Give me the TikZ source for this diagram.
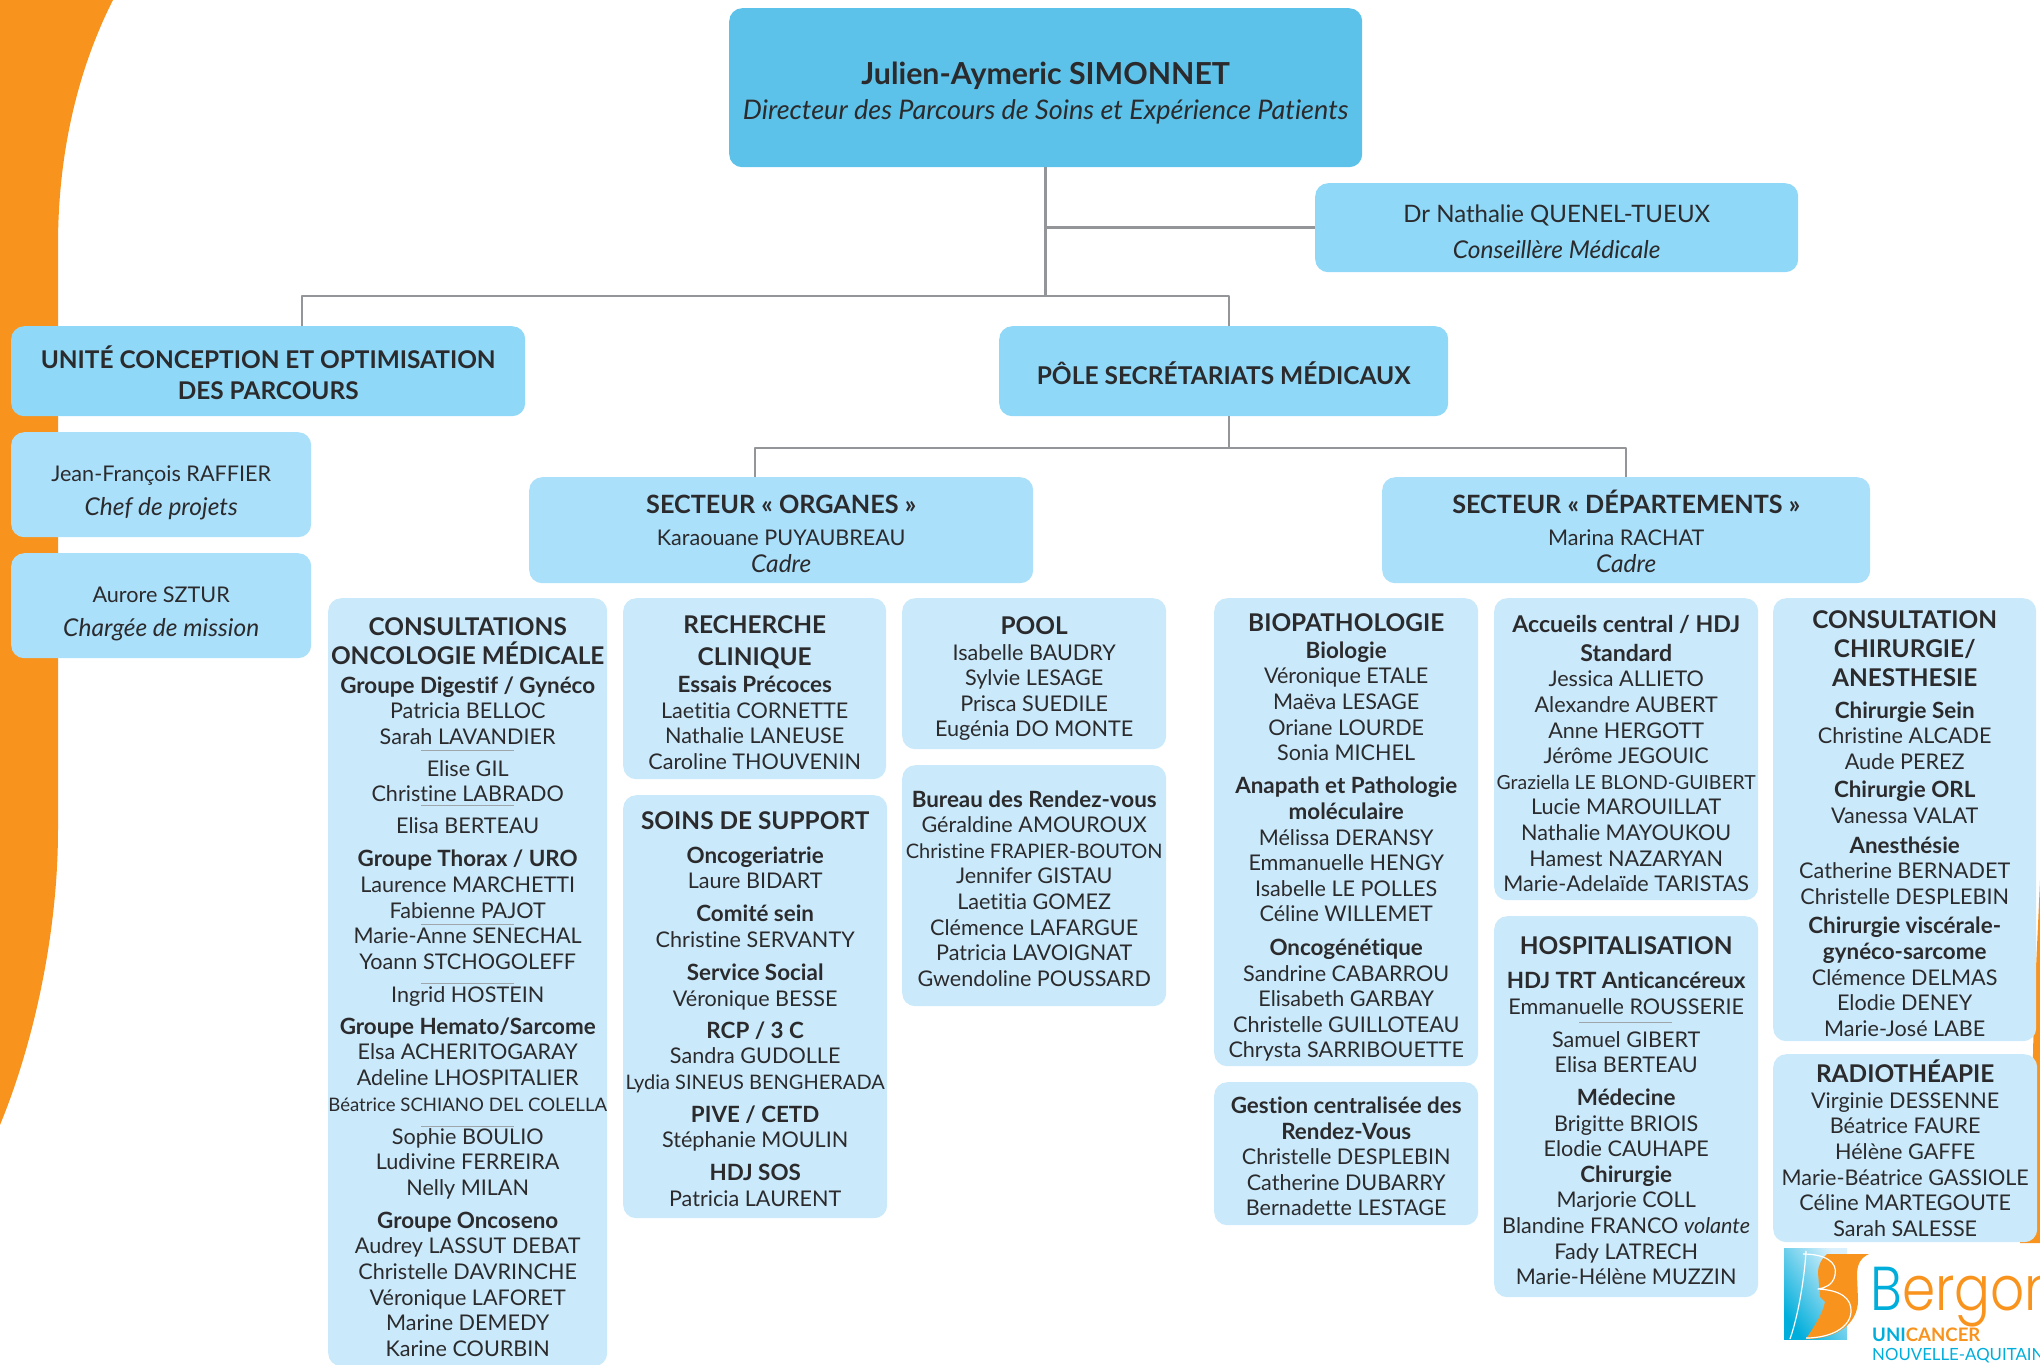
\documentclass[tikz,border=0pt]{standalone}
\usepackage{fontspec}
\setmainfont{Lato}[Ligatures=NoCommon]
\newfontfamily\logofont{Poppins Light}[FakeStretch=0.86]
\usetikzlibrary{calc,positioning}
\definecolor{orangeB}{HTML}{F8931E}
\definecolor{cyanB}{HTML}{00AEDB}
\definecolor{boxA}{HTML}{5CC2E9}
\definecolor{boxB}{HTML}{8FD8F7}
\definecolor{boxC}{HTML}{ABE0FB}
\definecolor{boxD}{HTML}{CAEAFB}
\definecolor{inkB}{HTML}{2B2A2C}
\definecolor{linkB}{HTML}{939598}
\newcommand{\hd}[1]{{\fontsize{24.4}{25.6}\selectfont\bfseries #1}}
\newcommand{\gr}[1]{{\fontsize{22.4}{25.6}\selectfont\bfseries #1}}
\newcommand{\rl}[1]{{\fontsize{24.5}{25.6}\selectfont\itshape #1}}
\newcommand{\nm}[2]{{\fontsize{#1}{25.6}\selectfont #2}}
\tikzset{
	infobox/.style={anchor=north west, rounded corners=13pt, inner sep=0pt, align=center, text=inkB, font=\fontsize{21.6}{25.6}\selectfont},
	listbox/.style={infobox, fill=boxD},
	link/.style={draw=linkB, line width=2.6pt},
	seprule/.style={draw=linkB!80!boxD, line width=1pt}
}
\begin{document}
\begin{tikzpicture}[x=1pt, y=-1pt, line join = round]
	\useasboundingbox (0,0) rectangle (2040,1365);
	%Bandes orange
	\fill[orangeB] (0,0)--(113,0) .. controls (75,75) and (58,160) .. (58,245)--(58,830) .. controls (58,930) and (35,1040) .. (0,1125)--cycle;
	\fill[orangeB] (2040,880) .. controls (2037,950) and (2034,1000) .. (2033,1054)--(2020,1243)--(2040,1243)--cycle;
	%Direction
	\node[infobox, fill=boxA, minimum width=633pt, minimum height=159pt] (ceo) at (729,8) {\rule{0pt}{33pt}{\fontsize{30.3}{30}\selectfont\bfseries Julien-Aymeric SIMONNET}\\[9pt]{\fontsize{27}{27}\selectfont\itshape Directeur des Parcours de Soins et Expérience Patients}};
	\node[infobox, fill=boxB, minimum width=483pt, minimum height=89pt] (advisor) at (1315,183) {\rule{0pt}{26pt}{\fontsize{24}{24}\selectfont Dr Nathalie QUENEL-TUEUX}\\[11pt]\rl{Conseillère Médicale}};
	\node[infobox, fill=boxB, minimum width=514pt, minimum height=90pt, font=\fontsize{24.4}{30.5}\selectfont\bfseries] (unite) at (11,326) {\rule{0pt}{26pt}UNITÉ CONCEPTION ET OPTIMISATION\\DES PARCOURS};
	\node[infobox, fill=boxB, minimum width=449pt, minimum height=90pt, font=\fontsize{24.5}{30.5}\selectfont\bfseries] (pole) at (999,326) {\rule{0pt}{26pt}PÔLE SECRÉTARIATS MÉDICAUX};
	\node[infobox, fill=boxC, minimum width=300pt, minimum height=105pt] (raffier) at (11,432) {\rule{0pt}{32pt}Jean-François RAFFIER\\[8pt]\rl{Chef de projets}};
	\node[infobox, fill=boxC, minimum width=300pt, minimum height=105pt] (sztur) at (11,553) {\rule{0pt}{32pt}Aurore SZTUR\\[8pt]\rl{Chargée de mission}};
	%Secteurs
	\node[infobox, fill=boxC, minimum width=504pt, minimum height=106pt] (organes) at (529,477) {\rule{0pt}{26pt}\hd{\fontsize{25.2}{25.6}\selectfont SECTEUR « ORGANES »}\\[6pt]Karaouane PUYAUBREAU\\[1.5pt]\rl{Cadre}};
	\node[infobox, fill=boxC, minimum width=488pt, minimum height=106pt] (departements) at (1382,477) {\rule{0pt}{26pt}\hd{\fontsize{25.2}{25.6}\selectfont SECTEUR « DÉPARTEMENTS »}\\[6pt]Marina RACHAT\\[1.5pt]\rl{Cadre}};
	%Connecteurs
	\coordinate (busA) at (302,296);
	\coordinate (busB) at (1229,296);
	\coordinate (busC) at (755,448);
	\coordinate (busD) at (1626,448);
	\draw[link] (ceo.south) |- (advisor.west);
	\draw[link] (ceo.south) -- (ceo.south |- busA);
	\draw[link] (unite.north -| busA) -- (busA) -- (busB) -- (pole.north -| busB);
	\draw[link] (pole.south -| busB) -- (busB |- busC);
	\draw[link] (organes.north -| busC) -- (busC) -- (busD) -- (departements.north -| busD);
	%Secteur organes
	\node[listbox, minimum width=279pt, minimum height=768pt] (onco) at (328,598) {\rule{0pt}{27pt}\hd{CONSULTATIONS}\\[3.4pt]\hd{ONCOLOGIE MÉDICALE}\\[3.4pt]\gr{Groupe Digestif / Gynéco}\\Patricia BELLOC\\Sarah LAVANDIER\\[6.4pt]Elise GIL\\Christine LABRADO\\[6.4pt]Elisa BERTEAU\\[7.4pt]\gr{Groupe Thorax / URO}\\Laurence MARCHETTI\\Fabienne PAJOT\\Marie-Anne SENECHAL\\Yoann STCHOGOLEFF\\[7.4pt]Ingrid HOSTEIN\\[6.4pt]\gr{Groupe Hemato/Sarcome}\\Elsa ACHERITOGARAY\\Adeline LHOSPITALIER\\\nm{18.6}{Béatrice SCHIANO DEL COLELLA}\\[7.4pt]Sophie BOULIO\\Ludivine FERREIRA\\Nelly MILAN\\[7.4pt]\gr{Groupe Oncoseno}\\Audrey LASSUT DEBAT\\Christelle DAVRINCHE\\Véronique LAFORET\\Marine DEMEDY\\Karine COURBIN};
	\node[listbox, minimum width=263pt, minimum height=181pt] (recherche) at (623,598) {\rule{0pt}{26pt}\hd{RECHERCHE}\\[6.4pt]\hd{CLINIQUE}\\[1pt]\gr{Essais Précoces}\\Laetitia CORNETTE\\Nathalie LANEUSE\\Caroline THOUVENIN};
	\node[listbox, minimum width=264pt, minimum height=423pt] (soins) at (623,795) {\rule{0pt}{23pt}\hd{SOINS DE SUPPORT}\\[8pt]\gr{Oncogeriatrie}\\Laure BIDART\\[7.4pt]\gr{Comité sein}\\Christine SERVANTY\\[7.4pt]\gr{Service Social}\\Véronique BESSE\\[6.4pt]\gr{RCP / 3 C}\\Sandra GUDOLLE\\\nm{20}{Lydia SINEUS BENGHERADA}\\[7.4pt]\gr{PIVE / CETD}\\Stéphanie MOULIN\\[7.4pt]\gr{HDJ SOS}\\Patricia LAURENT};
	\node[listbox, minimum width=264pt, minimum height=151pt] (pool) at (902,598) {\rule{0pt}{28pt}\hd{POOL}\\Isabelle BAUDRY\\Sylvie LESAGE\\Prisca SUEDILE\\Eugénia DO MONTE};
	\node[listbox, minimum width=264pt, minimum height=241pt] (bureau) at (902,765) {\rule{0pt}{22pt}\gr{Bureau des Rendez-vous}\\Géraldine AMOUROUX\\\nm{20}{Christine FRAPIER-BOUTON}\\Jennifer GISTAU\\Laetitia GOMEZ\\Clémence LAFARGUE\\Patricia LAVOIGNAT\\Gwendoline POUSSARD};
	%Secteur departements
	\node[listbox, minimum width=264pt, minimum height=468pt] (biopath) at (1214,598) {\rule{0pt}{28.5pt}\hd{BIOPATHOLOGIE}\\[1.4pt]\gr{Biologie}\\Véronique ETALE\\Maëva LESAGE\\Oriane LOURDE\\Sonia MICHEL\\[7.6pt]\gr{Anapath et Pathologie}\\\gr{moléculaire}\\Mélissa DERANSY\\Emmanuelle HENGY\\Isabelle LE POLLES\\Céline WILLEMET\\[8pt]\gr{Oncogénétique}\\Sandrine CABARROU\\Elisabeth GARBAY\\Christelle GUILLOTEAU\\Chrysta SARRIBOUETTE};
	\node[listbox, minimum width=264pt, minimum height=143pt] (gestion) at (1214,1082) {\rule{0pt}{22pt}\gr{Gestion centralisée des}\\\gr{Rendez-Vous}\\Christelle DESPLEBIN\\Catherine DUBARRY\\Bernadette LESTAGE};
	\node[listbox, minimum width=264pt, minimum height=302pt] (accueils) at (1494,598) {\rule{0pt}{26pt}{\fontsize{23.1}{25.6}\selectfont\bfseries Accueils central / HDJ}\\[3.2pt]{\fontsize{23.1}{25.6}\selectfont\bfseries Standard}\\Jessica ALLIETO\\Alexandre AUBERT\\Anne HERGOTT\\Jérôme JEGOUIC\\\nm{19.4}{Graziella LE BLOND-GUIBERT}\\Lucie MAROUILLAT\\Nathalie MAYOUKOU\\Hamest NAZARYAN\\Marie-Adelaïde TARISTAS};
	\node[listbox, minimum width=264pt, minimum height=381pt] (hospit) at (1494,916) {\rule{0pt}{26pt}\hd{HOSPITALISATION}\\[8.4pt]\gr{HDJ TRT Anticancéreux}\\Emmanuelle ROUSSERIE\\[7.6pt]Samuel GIBERT\\Elisa BERTEAU\\[7pt]\gr{Médecine}\\Brigitte BRIOIS\\Elodie CAUHAPE\\\gr{Chirurgie}\\Marjorie COLL\\Blandine FRANCO {\itshape volante}\\Fady LATRECH\\Marie-Hélène MUZZIN};
	\node[listbox, minimum width=263pt, minimum height=443pt] (chirurgie) at (1773,598) {\rule{0pt}{25pt}\hd{CONSULTATION}\\[3.4pt]\hd{CHIRURGIE/}\\[3.4pt]\hd{ANESTHESIE}\\[6.4pt]\gr{Chirurgie Sein}\\Christine ALCADE\\Aude PEREZ\\[3pt]\gr{Chirurgie ORL}\\Vanessa VALAT\\[4pt]\gr{Anesthésie}\\Catherine BERNADET\\Christelle DESPLEBIN\\[4pt]\gr{Chirurgie viscérale-}\\\gr{gynéco-sarcome}\\Clémence DELMAS\\Elodie DENEY\\Marie-José LABE};
	\node[listbox, minimum width=264pt, minimum height=188pt] (radio) at (1773,1054) {\hd{RADIOTHÉAPIE}\\Virginie DESSENNE\\Béatrice FAURE\\Hélène GAFFE\\Marie-Béatrice GASSIOLE\\Céline MARTEGOUTE\\Sarah SALESSE};
	%Traits de separation
	\foreach \y in {750,805,924,983,1126}
	\draw[seprule] (421,\y)--(514,\y);
	\draw[seprule] (1579,1022.5)--(1672,1022.5);
	%Logo
	\shade[left color=cyanB, right color=boxD!70, shading angle=125] (1784,1248)--(1847,1248)--(1847,1339)--(1784,1339)--cycle;
	\fill[orangeB] (1827,1254)--(1869,1254) .. controls (1860,1258) and (1857,1265) .. (1857,1275) -- (1858,1300) .. controls (1858,1325) and (1835,1339) .. (1806,1339) .. controls (1815,1325) and (1822,1315) .. (1825,1302)--(1820,1297)--(1818,1273) .. controls (1818,1265) and (1822,1258) .. (1827,1254)--cycle;
	\draw[white, line width=1.2pt] (1790,1339) .. controls (1800,1310) and (1805,1270) .. (1806,1251) (1803,1254) .. controls (1825,1254) and (1838,1262) .. (1835,1275) .. controls (1833,1285) and (1825,1288) .. (1818,1289) .. controls (1840,1290) and (1852,1298) .. (1851,1312) .. controls (1850,1328) and (1830,1338) .. (1806,1338);
	\begin{scope}
		\clip (1860,1245) rectangle (2040,1365);
		\node[anchor=base west, inner sep=0pt, font=\logofont\fontsize{62}{62}\selectfont] (bergon) at (1870,1310) {\textcolor{cyanB}{B}\textcolor{orangeB}{ergon}};
		\node[anchor=base west, inner sep=0pt, font=\fontsize{18.6}{18.6}\selectfont\bfseries] (unicancer) at (1872,1341.7) {\textcolor{cyanB}{UNI}\textcolor{orangeB}{CANCER}};
		\node[anchor=base west, inner sep=0pt, text=cyanB, font=\fontsize{16.8}{16.8}\selectfont] (nouvelle) at (1872,1360.7) {NOUVELLE-AQUITAINE};
	\end{scope}
\end{tikzpicture}
\end{document}
